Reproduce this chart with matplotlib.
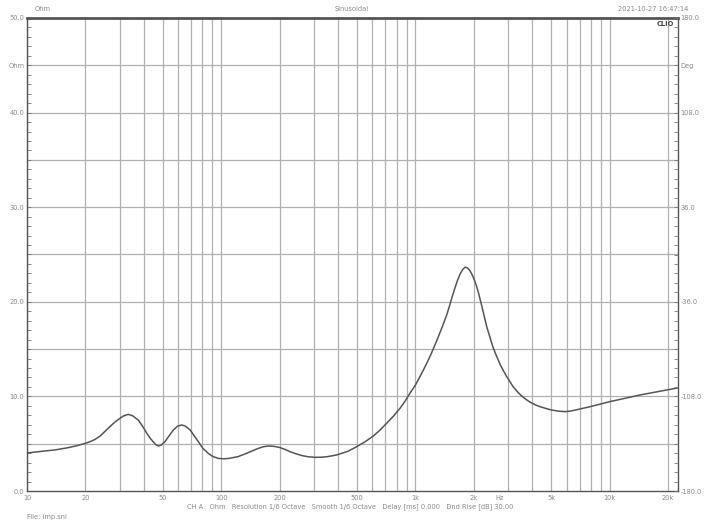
import matplotlib
matplotlib.use("Agg")
import matplotlib.pyplot as plt
from matplotlib.ticker import FixedLocator, NullFormatter

# impedance curve
freq_hz = [10, 12, 14, 16, 18, 20, 21.1, 22.4, 23.8, 25.2, 26.7, 28.4, 30.1, 31.5, 33.2,
           35, 37.4, 39.5, 41.4, 43, 44.6, 46, 47.5, 49, 51.3, 54, 56.7, 59.5, 62.6, 65.5,
           69.2, 72.5, 76.3, 80.5, 85.8, 90.5, 96.6, 103, 110, 122, 135, 145, 155, 165,
           175, 187, 200, 213, 226, 243, 260, 280, 304, 325, 350, 393, 450, 499, 550, 607,
           658, 711, 770, 833, 885, 937, 1000, 1050, 1100, 1150, 1200, 1250, 1300, 1375,
           1449, 1500, 1550, 1600, 1650, 1700, 1750, 1800, 1850, 1900, 1950, 2000, 2050,
           2100, 2200, 2328, 2400, 2500, 2600, 2727, 2850, 2951, 3192, 3350, 3500, 3700,
           3890, 4150, 4400, 4932, 5400, 5888, 6300, 6800, 7925, 10000, 14340, 22500]
impedance_ohm = [4.02, 4.2, 4.35, 4.55, 4.78, 5.04, 5.21, 5.45, 5.81, 6.3, 6.8, 7.3, 7.68,
                 7.95, 8.1, 7.95, 7.5, 6.8, 6.1, 5.6, 5.21, 4.9, 4.76, 4.85, 5.21, 5.85,
                 6.45, 6.85, 6.98, 6.85, 6.45, 5.85, 5.21, 4.5, 3.98, 3.65, 3.45, 3.4, 3.45,
                 3.63, 3.98, 4.25, 4.5, 4.68, 4.76, 4.72, 4.6, 4.4, 4.16, 3.93, 3.75, 3.62,
                 3.56, 3.57, 3.62, 3.81, 4.2, 4.69, 5.2, 5.81, 6.45, 7.16, 7.9, 8.74, 9.5,
                 10.33, 11.2, 12.0, 12.8, 13.6, 14.4, 15.25, 16.1, 17.35, 18.6, 19.6, 20.6,
                 21.5, 22.3, 22.95, 23.4, 23.65, 23.6, 23.35, 22.95, 22.45, 21.85, 21.15,
                 19.5, 17.4, 16.5, 15.3, 14.4, 13.4, 12.65, 12.1, 11.0, 10.5, 10.1, 9.7,
                 9.4, 9.1, 8.9, 8.6, 8.45, 8.39, 8.45, 8.6, 8.91, 9.44, 10.15, 10.9]

x_tick_values = [10, 20, 50, 100, 200, 500, 1000, 2000, 2700, 5000, 10000, 20000]
x_tick_labels = ["10", "20", "50", "100", "200", "500", "1k", "2k", "Hz", "5k", "10k", "20k"]
grid_freqs = ([10, 20, 30, 40, 50, 60, 70, 80, 90, 100, 200, 300, 400, 500, 600, 700, 800,
               900, 1000, 2000, 3000, 4000, 5000, 6000, 7000, 8000, 9000, 10000, 20000])
left_tick_values = [0, 10, 20, 30, 40, 45, 50]
left_tick_labels = ["0.0", "10.0", "20.0", "30.0", "40.0", "Ohm", "50.0"]
right_tick_values = [-180, -108, -36, 36, 108, 144, 180]
right_tick_labels = ["-180.0", "-108.0", "-36.0", "36.0", "108.0", "Deg", "180.0"]

txt_col = "#8a8a8a"
grid_col = "#b0b0b0"
fs = 4.8

fig = plt.figure(figsize=(7.05, 5.28), dpi=100)
ax = fig.add_axes([27 / 705, 1 - 491 / 528, (678 - 27) / 705, (491 - 18) / 528])
ax.set_xscale("log")
ax.set_xlim(10, 22500)
ax.set_ylim(0, 50)

for f in grid_freqs:
    ax.axvline(f, color=grid_col, lw=0.9, zorder=1)
for yv in range(5, 50, 5):
    ax.axhline(yv, color=grid_col, lw=0.9, zorder=1)

ax.plot(freq_hz, impedance_ohm, color="#555555", lw=1.1, zorder=3,
        solid_joinstyle="round")

ax.xaxis.set_major_locator(FixedLocator(x_tick_values))
ax.set_xticklabels(x_tick_labels)
ax.xaxis.set_minor_formatter(NullFormatter())
ax.xaxis.set_minor_locator(FixedLocator([]))
ax.tick_params(axis="x", which="major", length=0, labelsize=fs, labelcolor=txt_col, pad=3)

ax.yaxis.set_major_locator(FixedLocator(left_tick_values))
ax.set_yticklabels(left_tick_labels)
ax.yaxis.set_minor_locator(FixedLocator(list(range(0, 51))))
ax.tick_params(axis="y", which="both", direction="in", length=3, width=0.6,
               color="#777777", labelsize=fs, labelcolor=txt_col, pad=2)

for s in ["left", "bottom", "right"]:
    ax.spines[s].set_color("#555555")
    ax.spines[s].set_linewidth(1.0)
ax.spines["top"].set_color("#555555")
ax.spines["top"].set_linewidth(2.0)

ax2 = ax.twinx()
ax2.set_ylim(-180, 180)
ax2.yaxis.set_major_locator(FixedLocator(right_tick_values))
ax2.set_yticklabels(right_tick_labels)
ax2.yaxis.set_minor_locator(FixedLocator([-180 + 7.2 * i for i in range(51)]))
ax2.tick_params(axis="y", which="both", direction="in", length=3, width=0.6,
                color="#777777", labelsize=fs, labelcolor=txt_col, pad=2)
for s in ax2.spines.values():
    s.set_visible(False)

fig.text(35 / 705, 1 - 9 / 528, "Ohm", fontsize=fs, color=txt_col, ha="left", va="center")
fig.text(352 / 705, 1 - 9 / 528, "Sinusoidal", fontsize=fs, color=txt_col, ha="center", va="center")
fig.text(653 / 705, 1 - 9 / 528, "2021-10-27 16:47:14", fontsize=fs, color=txt_col,
         ha="center", va="center")
fig.text(674 / 705, 1 - 24 / 528, "CLIO", fontsize=fs, color="#444444", fontweight="bold",
         ha="right", va="center")
fig.text(350 / 705, 1 - 507 / 528,
         "CH A   Ohm   Resolution 1/6 Octave   Smooth 1/6 Octave   Delay [ms] 0.000   Dnd Rise [dB] 30.00",
         fontsize=fs, color=txt_col, ha="center", va="center")
fig.text(27 / 705, 1 - 517 / 528, "File: imp.sni", fontsize=fs, color=txt_col, ha="left", va="center")

fig.savefig("out.png", dpi=100, facecolor="white")
